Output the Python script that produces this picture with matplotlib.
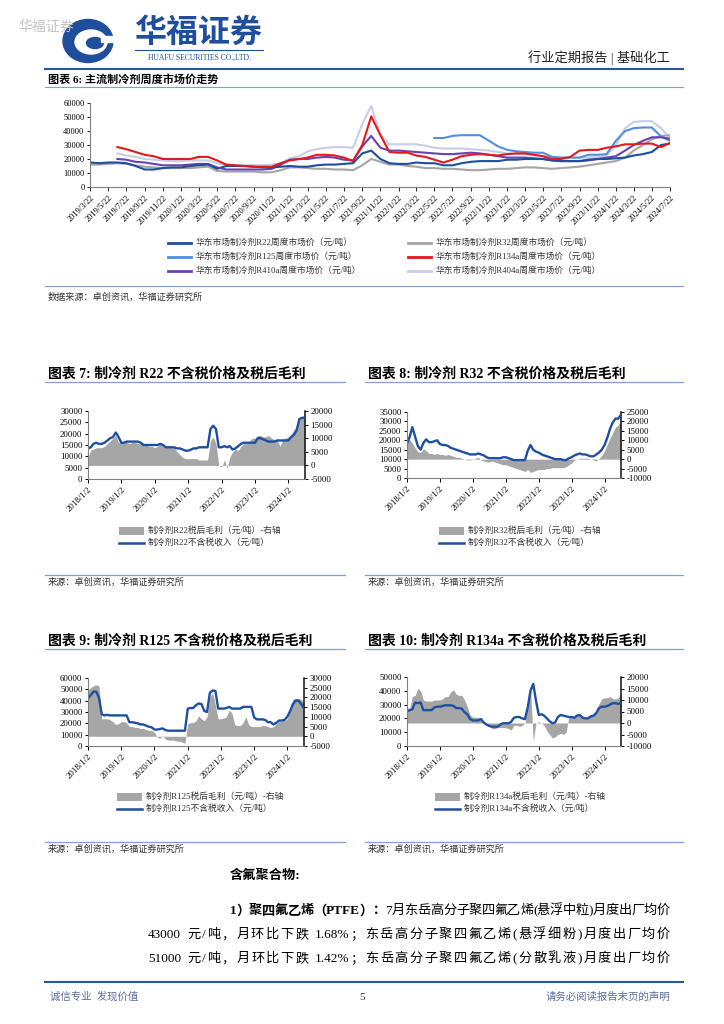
import re
import numpy as np
import pandas as pd
import matplotlib
matplotlib.use('Agg')
import matplotlib.pyplot as plt
from matplotlib.patches import Rectangle, Ellipse
from matplotlib.ticker import FuncFormatter

plt.rcParams['font.family'] = ['Liberation Serif', 'Noto Sans CJK SC']
plt.rcParams['axes.unicode_minus'] = False

nan = np.nan

# ---------------- 图表6 数据 (2019/3 - 2024/7, 月度取样) ----------------
wk_dates = pd.date_range('2019-03-01', periods=65, freq='MS') + pd.Timedelta(days=21)
wk_ticks = pd.date_range('2019-03-01', '2024-07-01', freq='2MS') + pd.Timedelta(days=21)

r22_wk = [17500, 17000, 17500, 17500, 17000, 15000, 12500, 12500, 13500, 14000,
          14000, 15000, 15500, 16000, 13000, 15000, 15000, 15000, 14500, 14000, 14000, 14500,
          15000, 14500, 14500, 15500, 16000, 16000, 16500, 17000, 24000, 26000, 20000, 17000,
          16500, 16500, 17500, 17000, 17000, 15500, 15500, 17000, 18000, 18500, 18500, 18500,
          19500, 19500, 20000, 20000, 20000, 19000, 18500, 18500, 18500, 19500, 20000, 20000,
          20500, 21000, 22500, 23500, 25000, 30000, 31000]
r32_wk = [16000, 16000, 16500, 17000, 16500, 15500, 14500, 14000, 13500, 13500,
          13500, 13500, 14000, 14500, 11500, 11000, 11000, 11000, 11000, 10500, 10500, 12000,
          14000, 14000, 13500, 13000, 13000, 12500, 12500, 12000, 15500, 20000, 18000, 16000,
          16000, 15000, 14500, 13500, 13500, 13000, 13000, 12500, 12000, 12000, 12500, 13000,
          13000, 13500, 14000, 14000, 13500, 13000, 13500, 14000, 14500, 15500, 16500, 17500,
          18500, 21000, 26000, 30000, 34000, 36500, 37000]
r125_wk = [nan] * 38 + [35000, 35000, 36500, 37000, 37000, 37000, 33000, 29000,
                        26500, 25500, 25000, 24500, 24500, 21500, 21000, 21000, 21000, 23000, 23000, 23500,
                        33000, 40000, 42000, 42500, 42500, 36000, 33000]
r134a_wk = [nan] * 3 + [28500, 27000, 25000, 23000, 22000, 20000, 20000,
                        20000, 20000, 21500, 21500, 19000, 16000, 15500, 15000, 14500, 14500, 14500, 17000,
                        19000, 20000, 21000, 23000, 23000, 22500, 21000, 18500, 30000, 50500, 37000, 25000,
                        24500, 24500, 22500, 21500, 19500, 17500, 19500, 22000, 23000, 23500, 23000, 22500,
                        23500, 24000, 24000, 23000, 22000, 20000, 20000, 21500, 26000, 26500, 26500, 28000,
                        29000, 30500, 30500, 31000, 31000, 28500, 31500]
r410a_wk = [nan] * 3 + [20000, 19500, 18000, 17500, 16500, 15500, 15500,
                        15500, 16000, 16500, 16500, 14000, 12500, 12500, 12500, 12500, 12500, 13000, 16000,
                        19500, 20000, 20000, 21000, 21500, 21000, 19500, 19000, 29000, 36500, 28000, 26000,
                        26000, 25500, 25000, 24500, 24000, 23500, 23500, 24000, 24500, 24000, 23000, 22000,
                        21000, 21000, 21000, 20500, 20000, 19000, 18500, 18500, 18500, 19000, 20000, 21000,
                        22000, 26000, 30000, 33000, 35500, 35500, 34500]
r404a_wk = [nan] * 3 + [24000, 22500, 21500, 20000, 19500, 19000, 18500,
                        18500, 19000, 19000, 19000, 17000, 15500, 15500, 15500, 15500, 15500, 16000, 17000,
                        20500, 22000, 25500, 27000, 28000, 28500, 28500, 28000, 45000, 58000, 37000, 30500,
                        30500, 30500, 30500, 29500, 28000, 27500, 27500, 27500, 27000, 26500, 26000, 25000,
                        24000, 23500, 23500, 23000, 22000, 21500, 21000, 21000, 21000, 21000, 21500, 22500,
                        30000, 42000, 46500, 47000, 47000, 42000, 35000]

wk_labels = ['华东市场制冷剂R22周度市场价（元/吨）', '华东市场制冷剂R32周度市场价（元/吨）',
             '华东市场制冷剂R125周度市场价（元/吨）', '华东市场制冷剂R134a周度市场价（元/吨）',
             '华东市场制冷剂R410a周度市场价（元/吨）', '华东市场制冷剂R404a周度市场价（元/吨）']

# ---------------- 图表7-10 数据 (2018/1 - 2024/7, 月度) ----------------
months = pd.date_range('2018-01-01', periods=79, freq='MS') + pd.Timedelta(days=1)
year_ticks = pd.to_datetime(['2018-01-02', '2019-01-02', '2020-01-02', '2021-01-02',
                             '2022-01-02', '2023-01-02', '2024-01-02'])

r22_price = [13500, 14000, 15500, 16000, 15500, 15500, 16000, 17000, 18000, 18500, 20500, 18500,
             16000, 16000, 16500, 16500, 16500, 16500, 16500, 16000, 15000, 15000, 15000, 15000,
             15000, 15000, 15500, 15000, 14000, 14000, 14000, 14000, 13500, 13500, 13000, 12500,
             12500, 13000, 13500, 13500, 14000, 14000, 14000, 14000, 22000, 23500, 22000, 14000,
             14000, 14500, 14000, 14500, 13000, 13500, 14500, 15500, 16000, 16000, 16000, 16000,
             16000, 18000, 18000, 17500, 17000, 16500, 16500, 16500, 17000, 17000, 17000, 17000,
             17000, 18500, 19500, 21500, 26500, 27000, 27000]
r22_margin = [3200, 5600, 6000, 6500, 6500, 6500, 7000, 8000, 9000, 10000, 11000, 8500,
              8500, 8500, 8500, 8000, 8500, 8500, 8000, 8000, 7500, 7500, 7000, 7000,
              6500, 7000, 8000, 7000, 6500, 7000, 7000, 6500, 5000, 4000, 3000, 2500,
              2500, 2500, 2500, 2500, 2000, 2000, 2000, 2000, 9000, 10500, 8000, 0,
              -500, 2000, -1000, 3000, 5000, 6000, 5500, 7000, 8000, 8000, 9000, 10000,
              10000, 11000, 11000, 10500, 10500, 11000, 10000, 9500, 9500, 7000, 9500, 10000,
              10500, 11500, 13000, 14500, 16500, 18000, 18500]

r32_price = [18300, 22000, 27000, 22000, 17000, 15000, 18500, 20500, 19000, 19000, 19500, 20000,
             18000, 17500, 17500, 17000, 16000, 15500, 15000, 14500, 14000, 13500, 13000, 12500,
             12500, 12500, 13000, 12500, 12000, 11000, 10500, 10500, 10500, 10500, 10500, 11000,
             11000, 10500, 10000, 9500, 9500, 9500, 9500, 9500, 14500, 17500, 15000, 14000,
             13500, 12500, 12000, 11500, 11000, 10500, 10000, 10000, 10000, 9500, 9500, 10500,
             11000, 12000, 12500, 13000, 12500, 12500, 12000, 11500, 11500, 12500, 13500, 15000,
             17500, 21500, 26000, 29500, 31500, 31500, 33500]
r32_margin = [10000, 10400, 8500, 6000, 4000, 3500, 5500, 4500, 3000, 3000, 2500, 3000,
              2500, 2500, 2000, 2500, 2000, 1500, 1000, 1000, 500, 0, -500, -500,
              0, 500, 1000, -500, -1000, -1500, -1500, -1000, -1500, -2000, -2500, -3000,
              -3000, -3500, -4000, -4500, -5000, -5500, -6000, -6500, -5500, -7000, -6500, -6000,
              -5500, -5500, -5500, -5000, -5000, -4500, -4500, -4500, -4500, -4500, -4000, -3000,
              -2000, -500, 0, 500, 500, 500, 500, 0, -500, -1000, 500, 2000,
              4500, 8000, 11000, 14000, 17000, 18000, 21000]

r125_price = [42000, 45000, 48000, 48000, 43000, 28000, 27000, 27500, 27000, 27000, 27000, 27000,
              27000, 27000, 27000, 21000, 21000, 20500, 20000, 19000, 19000, 18000, 17000, 16500,
              14500, 14500, 15000, 15500, 14000, 13500, 13500, 13500, 13500, 13500, 13500, 13500,
              33000, 33500, 33500, 36000, 37500, 37000, 31000, 30000, 47000, 49000, 48500, 33000,
              33000, 33000, 33500, 34500, 33000, 33000, 33000, 33000, 34500, 34500, 34500, 34500,
              25000, 23500, 23500, 23500, 23000, 21000, 21000, 19000, 20500, 22500, 22500, 23000,
              26000, 31000, 37000, 40000, 40000, 37000, 33000]
r125_margin = [24000, 25000, 26000, 26500, 26000, 9000, 9000, 9000, 8500, 7500, 6000, 6500,
               7500, 7500, 7000, 5000, 5000, 4500, 4500, 4000, 4000, 3500, 3000, 3000,
               2000, -500, -1000, 500, -1500, -2000, -2000, -2000, -2500, -2500, -3000, -3500,
               6500, 7000, 7000, 8000, 10500, 9000, 8000, 10000, 20000, 22500, 16000, 9000,
               9000, 9500, 10000, 13500, 12000, 6000, 5500, 5500, 7000, 10000, 6000, 5000,
               5000, 5000, 5000, 5500, 5500, 5000, 4500, 5000, 6500, 7500, 8000, 8000,
               9000, 14000, 19000, 19500, 19500, 19000, 17000]

r134a_price = [25000, 26000, 26500, 31500, 31000, 31500, 26000, 26000, 26000, 26000, 28000, 28500,
               28500, 29000, 29500, 29500, 29500, 29000, 27500, 27500, 27000, 24500, 23000, 19500,
               18500, 18500, 18500, 19500, 17000, 15500, 14500, 14000, 14000, 14000, 15500, 16500,
               16500, 16500, 17500, 20500, 21000, 21000, 20000, 19500, 28000, 40000, 45000, 33000,
               22500, 23000, 22000, 20000, 18000, 16500, 17000, 21000, 22500, 22000, 21500, 21000,
               21000, 20500, 22000, 22500, 20500, 20000, 20000, 21500, 22000, 24000, 27500, 28500,
               28500, 29000, 30000, 31000, 31000, 30500, 31500]
r134a_margin = [6500, 6500, 11500, 12000, 15000, 14000, 10000, 9500, 9500, 9500, 10000, 10000,
                10000, 10500, 11500, 11500, 13500, 14500, 12500, 12000, 12000, 10000, 7000, 3500,
                2500, 2500, 2500, 2000, 0, -1000, -1500, -2500, -2500, -2000, -2000, -2000,
                -2000, -2500, -3000, -1000, -1000, -1500, -1000, 0, 10000, 16000, -8000, 0,
                500, 0, -1000, -3500, -5000, -6500, -6000, -5000, -4500, -5000, -4000, 3000,
                3000, 2500, 3500, 3500, 3000, 2500, 2500, 3000, 3500, 5500, 8500, 10500,
                11000, 11000, 11500, 10500, 10500, 11000, 13000]

# ---------------- 颜色 ----------------
LOGO_BLUE = '#1f4e9c'
LINE_BLUE = '#1f4fa3'
AREA_GRAY = '#a6a6a6'
SEP_BLUE = '#7f9fd6'
TXT = '#333333'
wk_colors = ['#1f4e9c', '#a5a5a5', '#4f8fe0', '#e31a1c', '#6643b5', '#c9cde6']

W, H = 724, 1024
fig = plt.figure(figsize=(W / 100, H / 100), dpi=100)
page = fig.add_axes([0, 0, 1, 1])
page.set_xlim(0, W)
page.set_ylim(H, 0)
page.axis('off')
renderer = fig.canvas.get_renderer()


def px_axes(x0, y0, x1, y1):
    return fig.add_axes([x0 / W, 1 - y1 / H, (x1 - x0) / W, (y1 - y0) / H])


def int_fmt(v, pos):
    return f'{int(round(v))}'


def justify(segments, x0, x1, y, size):
    """两端对齐排一行文字"""
    toks = []
    for txt, wt in segments:
        for m in re.finditer(r'[A-Za-z0-9.%]+|.', txt):
            toks.append((m.group(), wt))
    widths = []
    for s, wt in toks:
        if s == ' ':
            widths.append(3.0)
            continue
        t = page.text(0, 0, s, fontsize=size, fontweight=wt)
        widths.append(t.get_window_extent(renderer).width)
        t.remove()
    gap = (x1 - x0 - sum(widths)) / (len(toks) - 1)
    x = x0
    for (s, wt), w in zip(toks, widths):
        if s != ' ':
            page.text(x, y, s, fontsize=size, fontweight=wt, va='center')
        x += w + gap


# ---------------- 页眉 ----------------
page.text(18, 27, '华福证券', fontsize=10, color='#c4c4c4', va='center')
page.add_patch(Ellipse((88, 41), 50, 43, color=LOGO_BLUE))
page.add_patch(Ellipse((91, 42), 32, 24, color='white'))
page.add_patch(Ellipse((95, 43), 17, 11, color=LOGO_BLUE))
page.add_patch(Rectangle((101, 36), 14, 6, color='white'))
page.text(198, 34, '华福证券', fontsize=23, fontweight='bold', color=LOGO_BLUE,
          ha='center', va='center')
page.plot([135, 263], [50, 50], color=LOGO_BLUE, lw=0.8)
page.text(199, 58, 'HUAFU SECURITIES CO.,LTD.', fontsize=5.5, color=LOGO_BLUE,
          ha='center', va='center')
page.text(670, 58, '行业定期报告 | 基础化工', fontsize=9.5, ha='right', va='center',
          color='#222222')
page.plot([45, 683], [69, 69], color='#2a56a8', lw=1.5)

# ---------------- 图表6 ----------------
page.text(48, 79, '图表 6: 主流制冷剂周度市场价走势', fontsize=8, fontweight='bold',
          va='center')
page.plot([45, 683], [87, 87], color=SEP_BLUE, lw=0.8)

ax = px_axes(90, 103, 670, 187)
series = [r22_wk, r32_wk, r125_wk, r134a_wk, r410a_wk, r404a_wk]
order = [5, 1, 2, 4, 0, 3]
for i in order:
    ax.plot(wk_dates, series[i], color=wk_colors[i], lw=1.5)
ax.set_ylim(0, 60000)
ax.set_yticks(range(0, 60001, 10000))
ax.yaxis.set_major_formatter(FuncFormatter(int_fmt))
ax.set_xlim(wk_dates[0], wk_dates[-1])
ax.set_xticks(wk_ticks)
ax.set_xticklabels([f'{d.year}/{d.month}/{d.day}' for d in wk_ticks], rotation=45,
                   ha='right', rotation_mode='anchor', fontsize=6)
ax.tick_params(axis='y', labelsize=6, length=2, width=0.6, pad=2)
ax.tick_params(axis='x', length=3, width=0.6, pad=2)
for s in ['top', 'right']:
    ax.spines[s].set_visible(False)
for s in ['left', 'bottom']:
    ax.spines[s].set_color('#808080')
    ax.spines[s].set_linewidth(0.8)
ax.patch.set_visible(False)

leg_rows = [243, 257, 271]
for k, lab in enumerate(wk_labels):
    r, c = divmod(k, 2)
    x0 = 168 if c == 0 else 408
    y0 = leg_rows[r]
    page.plot([x0, x0 + 23], [y0, y0], color=wk_colors[k], lw=2)
    page.text(x0 + 28, y0, lab, fontsize=6.3, va='center', color=TXT)

page.plot([45, 683], [286, 286], color=SEP_BLUE, lw=0.8)
page.text(48, 297, '数据来源：卓创资讯，华福证券研究所', fontsize=6.6, va='center', color=TXT)


# ---------------- 图表7-10 ----------------
def margin_chart(box, price, margin, lmax, lstep, rmin, rmax, rstep):
    axl = px_axes(*box)
    axr = axl.twinx()
    axr.fill_between(months, 0, margin, color=AREA_GRAY, lw=0)
    axl.plot(months, price, color=LINE_BLUE, lw=1.7)
    axl.set_zorder(axr.get_zorder() + 1)
    axl.patch.set_visible(False)
    axl.set_ylim(0, lmax)
    axl.set_yticks(range(0, lmax + 1, lstep))
    axr.set_ylim(rmin, rmax)
    axr.set_yticks(range(rmin, rmax + 1, rstep))
    for a in (axl, axr):
        a.yaxis.set_major_formatter(FuncFormatter(int_fmt))
        a.tick_params(axis='y', labelsize=6.3, length=2.5, width=0.7, pad=1.5)
        a.set_xlim(months[0], months[-1])
        a.spines['top'].set_visible(False)
    axl.spines['right'].set_visible(False)
    axr.spines['left'].set_visible(False)
    axr.spines['bottom'].set_visible(False)
    for s in ['left', 'bottom']:
        axl.spines[s].set_color('#808080')
        axl.spines[s].set_linewidth(0.8)
    axr.spines['right'].set_color('#111111')
    axr.spines['right'].set_linewidth(1.1)
    axl.set_xticks(year_ticks)
    axl.set_xticklabels([f'{d.year}/1/2' for d in year_ticks], rotation=45, ha='right',
                        rotation_mode='anchor', fontsize=6.3)
    axl.tick_params(axis='x', length=3, width=0.7, pad=2)
    return axl


def section(x, y_title, title, box, price, margin, lims, leg_y, leg_x, lab_a, lab_b, y_src):
    x_end = 345 if x < 300 else 683
    page.text(x + 3, y_title, title, fontsize=10, fontweight='bold', va='center')
    page.plot([x, x_end], [y_title + 8, y_title + 8], color=SEP_BLUE, lw=0.9)
    margin_chart(box, price, margin, *lims)
    page.add_patch(Rectangle((leg_x, leg_y - 4), 25, 8, color=AREA_GRAY, lw=0))
    page.text(leg_x + 29, leg_y, lab_a, fontsize=6.3, va='center', color=TXT)
    page.plot([leg_x, leg_x + 25], [leg_y + 12, leg_y + 12], color=LINE_BLUE, lw=1.8)
    page.text(leg_x + 29, leg_y + 12, lab_b, fontsize=6.3, va='center', color=TXT)
    page.plot([x, x_end], [y_src - 7, y_src - 7], color=SEP_BLUE, lw=0.9)
    page.text(x + 3, y_src, '来源：卓创资讯，华福证券研究所', fontsize=6.6, va='center', color=TXT)


section(45, 374, '图表 7: 制冷剂 R22 不含税价格及税后毛利', (88, 411, 305, 479),
        r22_price, r22_margin, (30000, 5000, -5000, 20000, 5000), 531, 119,
        '制冷剂R22税后毛利（元/吨）-右轴', '制冷剂R22不含税收入（元/吨）', 582)
section(365, 374, '图表 8: 制冷剂 R32 不含税价格及税后毛利', (407, 412, 621, 478),
        r32_price, r32_margin, (35000, 5000, -10000, 25000, 5000), 531, 439,
        '制冷剂R32税后毛利（元/吨）-右轴', '制冷剂R32不含税收入（元/吨）', 582)
section(45, 641, '图表 9: 制冷剂 R125 不含税价格及税后毛利', (88, 678, 304, 746),
        r125_price, r125_margin, (60000, 10000, -5000, 30000, 5000), 797, 117,
        '制冷剂R125税后毛利（元/吨）-右轴', '制冷剂R125不含税收入（元/吨）', 849)
section(365, 641, '图表 10: 制冷剂 R134a 不含税价格及税后毛利', (407, 677, 621, 746),
        r134a_price, r134a_margin, (50000, 10000, -10000, 20000, 5000), 797, 435,
        '制冷剂R134a税后毛利（元/吨）-右轴', '制冷剂R134a不含税收入（元/吨）', 849)

# ---------------- 正文 ----------------
page.text(230, 876, '含氟聚合物:', fontsize=9.5, fontweight='bold', va='center')
justify([('1）聚四氟乙烯（PTFE）：', 'bold'), ('7月东岳高分子聚四氟乙烯(悬浮中粒)月度出厂均价', 'normal')],
        230, 670, 911, 9.5)
justify([('43000 元/吨，月环比下跌 1.68%；东岳高分子聚四氟乙烯(悬浮细粉)月度出厂均价', 'normal')],
        148, 670, 935, 9.5)
justify([('51000 元/吨，月环比下跌 1.42%；东岳高分子聚四氟乙烯(分散乳液)月度出厂均价', 'normal')],
        148, 670, 959, 9.5)

# ---------------- 页脚 ----------------
page.plot([45, 683], [982, 982], color='#2a56a8', lw=1.5)
page.text(50, 997, '诚信专业  发现价值', fontsize=7.5, va='center', color='#5b6f9c')
page.text(362, 997, '5', fontsize=8, va='center', ha='center', color=TXT)
page.text(670, 997, '请务必阅读报告末页的声明', fontsize=7.5, va='center', ha='right',
          color='#5b6f9c')

fig.savefig('out.png', dpi=100, facecolor='white')
